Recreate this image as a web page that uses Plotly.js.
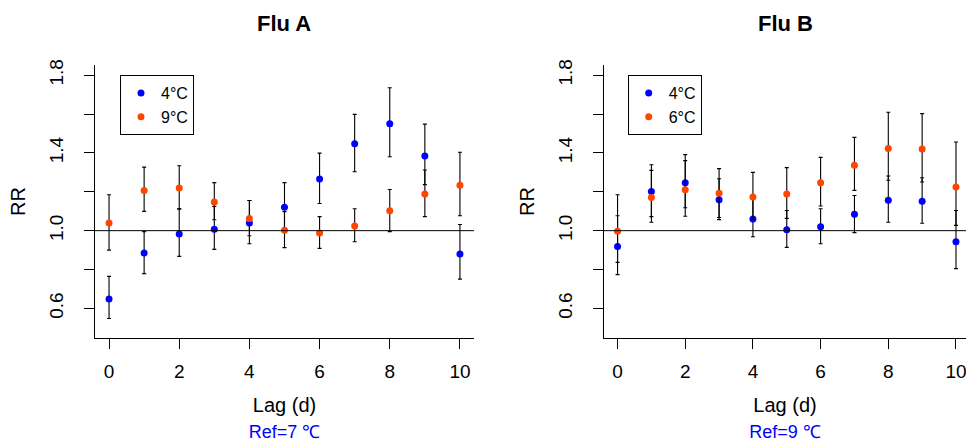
<!DOCTYPE html>
<html>
<head>
<meta charset="utf-8">
<script src="https://cdn.plot.ly/plotly-3.0.1.min.js"></script>
<style>html,body{margin:0;padding:0;background:#fff;}#chart{width:966px;height:442px;}</style>
</head>
<body>
<div id="chart"></div>
<script>
// ---- data ----
var lags = [0, 1, 2, 3, 4, 5, 6, 7, 8, 9, 10];
var xTickVals = [0, 2, 4, 6, 8, 10];
var yTickVals = [0.6, 0.8, 1.0, 1.2, 1.4, 1.6, 1.8];
var yTickText = ['0.6', '', '1.0', '', '1.4', '', '1.8'];
var refRR = 1.0;

// Flu A, 4°C
var fluA_4_rr = [0.648, 0.885, 0.983, 1.007, 1.039, 1.120, 1.266, 1.447, 1.550, 1.384, 0.880];
var fluA_4_lo = [0.548, 0.779, 0.868, 0.904, 0.933, 1.006, 1.140, 1.303, 1.380, 1.237, 0.751];
var fluA_4_hi = [0.765, 0.995, 1.112, 1.125, 1.155, 1.247, 1.399, 1.598, 1.735, 1.548, 1.032];
// Flu A, 9°C
var fluA_9_rr = [1.039, 1.206, 1.219, 1.147, 1.062, 1.002, 0.988, 1.024, 1.103, 1.188, 1.233];
var fluA_9_lo = [0.900, 1.099, 1.112, 1.056, 0.974, 0.913, 0.909, 0.943, 0.995, 1.072, 1.077];
var fluA_9_hi = [1.185, 1.327, 1.334, 1.247, 1.155, 1.098, 1.072, 1.113, 1.212, 1.312, 1.403];
// Flu B, 4°C
var fluB_4_rr = [0.918, 1.202, 1.247, 1.159, 1.060, 1.005, 1.020, 1.084, 1.156, 1.151, 0.943];
var fluB_4_lo = [0.774, 1.072, 1.118, 1.057, 0.969, 0.914, 0.933, 0.990, 1.043, 1.038, 0.805];
var fluB_4_hi = [1.077, 1.339, 1.391, 1.267, 1.160, 1.104, 1.113, 1.181, 1.281, 1.272, 1.104];
// Flu B, 6°C
var fluB_6_rr = [0.997, 1.170, 1.211, 1.192, 1.173, 1.188, 1.247, 1.337, 1.423, 1.420, 1.224];
var fluB_6_lo = [0.837, 1.043, 1.074, 1.068, 1.058, 1.063, 1.127, 1.207, 1.259, 1.250, 1.027];
var fluB_6_hi = [1.185, 1.310, 1.360, 1.319, 1.300, 1.324, 1.377, 1.480, 1.609, 1.602, 1.456];

var seriesNames = ['4°C', '9°C', '4°C', '6°C'];
var panelTitles = ['Flu A', 'Flu B'];
var refTexts = ['Ref=7 ℃', 'Ref=9 ℃'];
var xLabel = 'Lag (d)';
var yLabel = 'RR';

// ---- build ----
var BLUE = '#0000FF', ORANGE = '#FF4500';
var FONT = 'Liberation Sans, Arial, Helvetica, sans-serif';

function trace(rr, lo, hi, name, color, xa, ya, leg) {
  return {
    type: 'scatter', mode: 'markers', x: lags, y: rr, name: name,
    xaxis: xa, yaxis: ya, legend: leg,
    marker: {color: color, size: 7},
    error_y: {
      type: 'data', symmetric: false,
      array: hi.map(function (h, i) { return h - rr[i]; }),
      arrayminus: lo.map(function (l, i) { return rr[i] - l; }),
      color: 'black', thickness: 1.1, width: 2
    },
    hoverinfo: 'x+y'
  };
}

var data = [
  trace(fluA_4_rr, fluA_4_lo, fluA_4_hi, seriesNames[0], BLUE, 'x', 'y', 'legend'),
  trace(fluA_9_rr, fluA_9_lo, fluA_9_hi, seriesNames[1], ORANGE, 'x', 'y', 'legend'),
  trace(fluB_4_rr, fluB_4_lo, fluB_4_hi, seriesNames[2], BLUE, 'x2', 'y2', 'legend2'),
  trace(fluB_6_rr, fluB_6_lo, fluB_6_hi, seriesNames[3], ORANGE, 'x2', 'y2', 'legend2')
];

function xAxis(domain, range, anchor, refText) {
  return {
    domain: domain, range: range, anchor: anchor,
    tickvals: xTickVals, ticks: 'outside', ticklen: 10, tickwidth: 1, tickcolor: 'black',
    showline: true, linecolor: 'black', linewidth: 1, mirror: false,
    showgrid: false, zeroline: false, ticklabelstandoff: 6, ticklabeloverflow: 'allow',
    tickfont: {size: 19, color: 'black'},
    title: {
      text: xLabel + '<br><span style="color:#0000FF;font-size:18px">' + refText + '</span>',
      font: {size: 20, color: 'black'}, standoff: 26
    },
    fixedrange: true
  };
}
function yAxis(domain, anchor) {
  return {
    domain: domain, range: [0.448, 1.852], anchor: anchor,
    tickvals: yTickVals, ticktext: yTickText, tickangle: -90,
    ticks: 'outside', ticklen: 10, tickwidth: 1, tickcolor: 'black',
    showline: true, linecolor: 'black', linewidth: 1, mirror: false,
    showgrid: false, zeroline: false, ticklabelstandoff: 13,
    tickfont: {size: 19, color: 'black'},
    title: {text: yLabel, font: {size: 20, color: 'black'}, standoff: 15},
    fixedrange: true
  };
}

var legendStyle = function (x) {
  return {
    x: x, y: 0.963, xanchor: 'left', yanchor: 'top',
    bgcolor: 'white', bordercolor: 'black', borderwidth: 1,
    font: {size: 16, color: 'black', family: FONT},
    itemwidth: 30, tracegroupgap: 0
  };
};

var layout = {
  width: 966, height: 442,
  margin: {l: 95, r: 0, t: 65, b: 104, pad: 0},
  paper_bgcolor: 'white', plot_bgcolor: 'white',
  font: {family: FONT, size: 19, color: 'black'},
  showlegend: true,
  xaxis: xAxis([0, 0.4351], [-0.4, 10.4], 'y', refTexts[0]),
  yaxis: yAxis([0, 1], 'x'),
  xaxis2: xAxis([0.5844, 1], [-0.4, 10.296], 'y2', refTexts[1]),
  yaxis2: yAxis([0, 1], 'x2'),
  legend: legendStyle(0.0287),
  legend2: legendStyle(0.6116),
  shapes: [
    {type: 'line', xref: 'x domain', yref: 'y', x0: 0, x1: 1, y0: refRR, y1: refRR,
     line: {color: 'black', width: 1}, layer: 'above'},
    {type: 'line', xref: 'x2 domain', yref: 'y2', x0: 0, x1: 1, y0: refRR, y1: refRR,
     line: {color: 'black', width: 1}, layer: 'above'}
  ],
  annotations: [
    {text: '<b>' + panelTitles[0] + '</b>', xref: 'x domain', x: 0.5, yref: 'paper', y: 1.152,
     yanchor: 'middle', showarrow: false, font: {size: 22, color: 'black'}},
    {text: '<b>' + panelTitles[1] + '</b>', xref: 'x2 domain', x: 0.5, yref: 'paper', y: 1.152,
     yanchor: 'middle', showarrow: false, font: {size: 22, color: 'black'}}
  ],
  hovermode: false
};

Plotly.newPlot('chart', data, layout, {displayModeBar: false, staticPlot: true});
</script>
</body>
</html>
